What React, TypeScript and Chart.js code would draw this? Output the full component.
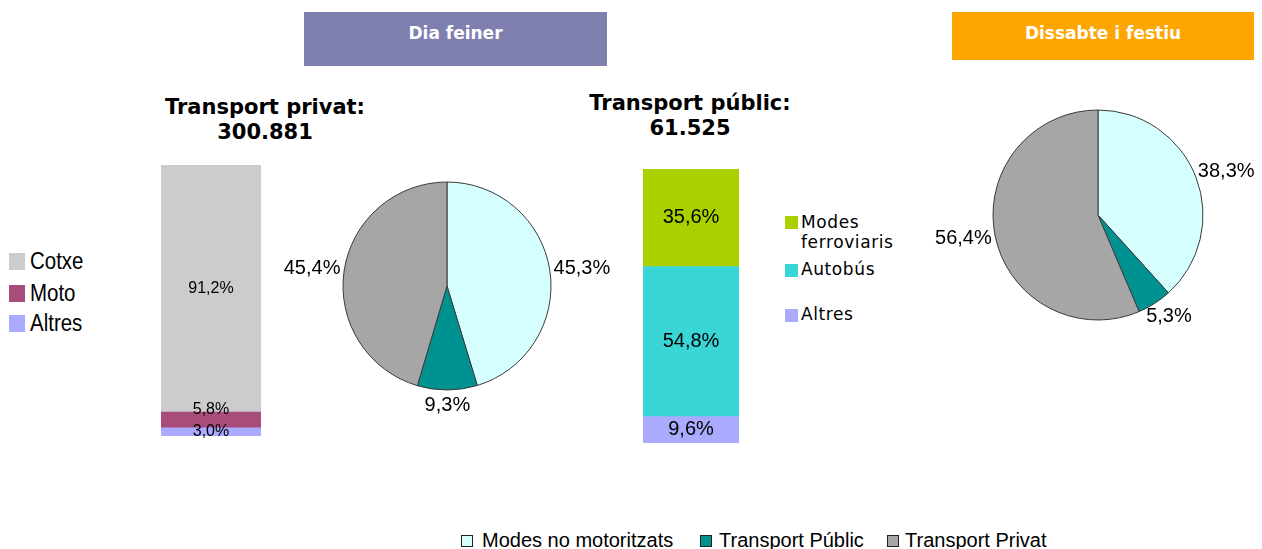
import React, { useEffect, useRef } from "react";
import { Chart, registerables } from "chart.js";

Chart.register(...registerables);

// ---------- data ----------
const periods = ["Dia feiner", "Dissabte i festiu"];
const privateTitle = "Transport privat:";
const privateTotal = "300.881";
const privateModes = ["Cotxe", "Moto", "Altres"];
const privateShares = [91.2, 5.8, 3.0];
const publicTitle = "Transport públic:";
const publicTotal = "61.525";
const publicModes = ["Modes ferroviaris", "Autobús", "Altres"];
const publicShares = [35.6, 54.8, 9.6];
const splitCategories = ["Modes no motoritzats", "Transport Públic", "Transport Privat"];
const weekdaySplit = [45.3, 9.3, 45.4];
const weekendSplit = [38.3, 5.3, 56.4];

// ---------- styles ----------
const privateColors = ["#CCCCCC", "#A84C7C", "#AAAAFF"];
const publicColors = ["#AAD000", "#3AD5D5", "#AAAAFF"];
const splitColors = ["#D5FFFF", "#009191", "#A6A6A6"];

const fmt = (v: number) => v.toFixed(1).replace(".", ",") + "%";

type Frame = { left: number; top: number; width: number; height: number };

function StackBar(props: {
  frame: Frame;
  pad: { left: number; right: number; top: number; bottom: number };
  values: number[];
  colors: string[];
  font: string;
  shifts: number[];
}) {
  const ref = useRef<HTMLCanvasElement>(null);
  useEffect(() => {
    const { values, colors, font, shifts, pad } = props;
    const datasets = values
      .map((v, i) => ({
        data: [v],
        backgroundColor: colors[i],
        borderWidth: 0,
        barPercentage: 1,
        categoryPercentage: 1,
        shift: shifts[i],
      }))
      .reverse();
    const labelPlugin = {
      id: "segLabels",
      afterDatasetsDraw(chart: any) {
        const ctx = chart.ctx;
        ctx.save();
        ctx.font = font;
        ctx.fillStyle = "#000";
        ctx.textAlign = "center";
        ctx.textBaseline = "middle";
        chart.data.datasets.forEach((ds: any, di: number) => {
          const el = chart.getDatasetMeta(di).data[0];
          const p = el.getProps(["x", "y", "base"], true);
          ctx.fillText(fmt(ds.data[0]), p.x, (p.y + p.base) / 2 + ds.shift);
        });
        ctx.restore();
      },
    };
    const chart = new Chart(ref.current!, {
      type: "bar",
      data: { labels: [""], datasets: datasets as any },
      options: {
        responsive: false,
        animation: false,
        layout: { padding: pad },
        plugins: { legend: { display: false }, tooltip: { enabled: false } },
        scales: {
          x: { stacked: true, display: false },
          y: { stacked: true, display: false, min: 0, max: 100 },
        },
      },
      plugins: [labelPlugin],
    });
    return () => chart.destroy();
  }, []);
  const f = props.frame;
  return (
    <canvas
      ref={ref}
      width={f.width}
      height={f.height}
      style={{ position: "absolute", left: f.left, top: f.top, width: f.width, height: f.height }}
    />
  );
}

function Pie(props: {
  frame: Frame;
  cx: number;
  cy: number;
  r: number;
  values: number[];
  colors: string[];
  font: string;
}) {
  const ref = useRef<HTMLCanvasElement>(null);
  useEffect(() => {
    const { frame, cx, cy, r, values, colors, font } = props;
    const pad = {
      left: cx - frame.left - r,
      right: frame.left + frame.width - cx - r,
      top: cy - frame.top - r,
      bottom: frame.top + frame.height - cy - r,
    };
    const labelPlugin = {
      id: "pieLabels",
      afterDatasetsDraw(chart: any) {
        const ctx = chart.ctx;
        ctx.save();
        ctx.font = font;
        ctx.fillStyle = "#000";
        ctx.textAlign = "center";
        ctx.textBaseline = "middle";
        const meta = chart.getDatasetMeta(0);
        meta.data.forEach((el: any, i: number) => {
          const p = el.getProps(["x", "y", "startAngle", "endAngle", "outerRadius"], true);
          const mid = (p.startAngle + p.endAngle) / 2;
          const dx = Math.cos(mid);
          const dy = Math.sin(mid);
          const txt = fmt(chart.data.datasets[0].data[i]);
          const w = ctx.measureText(txt).width;
          const h = 22;
          const R = p.outerRadius + 4;
          ctx.fillText(txt, p.x + dx * R + (dx * w) / 2, p.y + dy * R + (dy * h) / 2);
        });
        ctx.restore();
      },
    };
    const chart = new Chart(ref.current!, {
      type: "pie",
      data: {
        labels: splitCategories,
        datasets: [
          {
            data: values,
            backgroundColor: colors,
            borderColor: "#3A3A3A",
            borderWidth: 1,
            radius: r,
          } as any,
        ],
      },
      options: {
        responsive: false,
        animation: false,
        layout: { padding: pad },
        plugins: { legend: { display: false }, tooltip: { enabled: false } },
      },
      plugins: [labelPlugin],
    });
    return () => chart.destroy();
  }, []);
  const f = props.frame;
  return (
    <canvas
      ref={ref}
      width={f.width}
      height={f.height}
      style={{ position: "absolute", left: f.left, top: f.top, width: f.width, height: f.height }}
    />
  );
}

const abs = (s: React.CSSProperties): React.CSSProperties => ({ position: "absolute", ...s });

export default function App() {
  const headerFont = "bold 17px 'DejaVu Sans', Verdana, sans-serif";
  const titleFont = "bold 21px 'DejaVu Sans', Verdana, sans-serif";
  const leftLegendY = [261, 293, 323];
  const pubLegend = [
    { top: 212, sq: 216 },
    { top: 259, sq: 264 },
    { top: 304, sq: 309 },
  ];
  const bottomLegendX = [
    { sq: 461, tx: 482 },
    { sq: 700, tx: 719 },
    { sq: 887, tx: 905 },
  ];
  return (
    <div
      style={{
        position: "fixed",
        left: 0,
        top: 0,
        width: 1262,
        height: 549,
        background: "#FFFFFF",
        overflow: "hidden",
        fontFamily: "'Liberation Sans', Arial, sans-serif",
      }}
    >
      {/* headers */}
      <div
        style={abs({
          left: 304,
          top: 12,
          width: 303,
          height: 54,
          background: "#7E7EAF",
          color: "#FFFFFF",
          font: headerFont,
          lineHeight: "42px",
          textAlign: "center",
        })}
      >
        {periods[0]}
      </div>
      <div
        style={abs({
          left: 952,
          top: 12,
          width: 302,
          height: 48,
          background: "#FFA500",
          color: "#FFFFFF",
          font: headerFont,
          lineHeight: "42px",
          textAlign: "center",
        })}
      >
        {periods[1]}
      </div>

      {/* titles */}
      <div style={abs({ left: 115, top: 95, width: 300, textAlign: "center", font: titleFont, lineHeight: "25px", color: "#000" })}>
        {privateTitle}
        <br />
        {privateTotal}
      </div>
      <div style={abs({ left: 540, top: 91, width: 300, textAlign: "center", font: titleFont, lineHeight: "25px", color: "#000" })}>
        {publicTitle}
        <br />
        {publicTotal}
      </div>

      {/* left legend */}
      {privateModes.map((m, i) => (
        <React.Fragment key={m}>
          <div style={abs({ left: 9, top: leftLegendY[i] - 8, width: 16, height: 17, background: privateColors[i] })} />
          <div
            style={abs({
              left: 30,
              top: leftLegendY[i] - 14,
              height: 28,
              lineHeight: "28px",
              fontSize: 23,
              color: "#000",
              transform: "scaleX(0.89)",
              transformOrigin: "left center",
              whiteSpace: "nowrap",
            })}
          >
            {m}
          </div>
        </React.Fragment>
      ))}

      <StackBar
        frame={{ left: 141, top: 155, width: 140, height: 291 }}
        pad={{ left: 20, right: 20, top: 10, bottom: 10 }}
        values={privateShares}
        colors={privateColors}
        font="16px 'Liberation Sans', Arial, sans-serif"
        shifts={[0, -10, 0]}
      />

      <Pie frame={{ left: 280, top: 170, width: 345, height: 265 }} cx={447} cy={286} r={104} values={weekdaySplit} colors={splitColors} font="20px 'Liberation Sans', Arial, sans-serif" />

      <StackBar
        frame={{ left: 623, top: 159, width: 136, height: 294 }}
        pad={{ left: 20, right: 20, top: 10, bottom: 10 }}
        values={publicShares}
        colors={publicColors}
        font="20px 'Liberation Sans', Arial, sans-serif"
        shifts={[0, 0, 0]}
      />

      {/* public legend */}
      {publicModes.map((m, i) => (
        <React.Fragment key={m}>
          <div style={abs({ left: 785, top: pubLegend[i].sq, width: 13, height: 13, background: publicColors[i] })} />
          <div
            style={abs({
              left: 801,
              top: pubLegend[i].top,
              width: 110,
              lineHeight: "22px",
              font: "17px 'DejaVu Sans', Verdana, sans-serif",
              letterSpacing: "0.6px",
              color: "#000",
            })}
          >
            {m}
          </div>
        </React.Fragment>
      ))}

      <Pie frame={{ left: 920, top: 95, width: 342, height: 250 }} cx={1098} cy={215} r={105} values={weekendSplit} colors={splitColors} font="20px 'Liberation Sans', Arial, sans-serif" />

      {/* bottom legend */}
      {splitCategories.map((c, i) => (
        <React.Fragment key={c}>
          <div
            style={abs({
              left: bottomLegendX[i].sq,
              top: 535,
              width: 10,
              height: 10,
              background: splitColors[i],
              border: "1px solid #222",
            })}
          />
          <div
            style={abs({
              left: bottomLegendX[i].tx,
              top: 528,
              height: 24,
              lineHeight: "24px",
              fontSize: 20,
              color: "#000",
              whiteSpace: "nowrap",
            })}
          >
            {c}
          </div>
        </React.Fragment>
      ))}
    </div>
  );
}
